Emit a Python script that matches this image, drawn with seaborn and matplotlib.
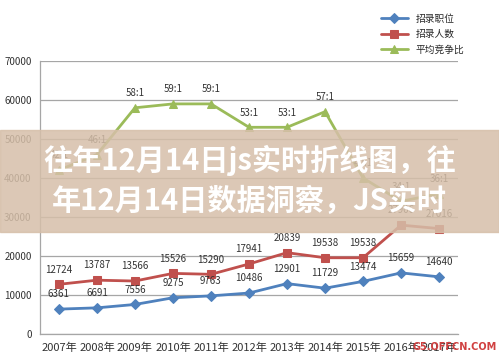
import seaborn as sns
import matplotlib.pyplot as plt
import matplotlib.patches as mpatches
import pandas as pd

years = ["2007年", "2008年", "2009年", "2010年", "2011年", "2012年",
         "2013年", "2014年", "2015年", "2016年", "2017年"]
positions = [6361, 6691, 7556, 9275, 9763, 10486, 12901, 11729, 13474, 15659, 14640]
applicants = [12724, 13787, 13566, 15526, 15290, 17941, 20839, 19538, 19538, 27906, 27016]
ratio = [42, 46, 58, 59, 59, 53, 53, 57, 40, 34, 36]

sns.set_style("white")
plt.rcParams['font.family'] = ['Noto Sans CJK SC', 'DejaVu Sans']

fig = plt.figure(figsize=(4.99, 3.61), dpi=100)
ax = fig.add_axes([0.080, 0.075, 0.838, 0.756])

df = pd.DataFrame({"year": years, "pos": positions, "app": applicants,
                   "ratio": [r * 1000 for r in ratio]})

blue = "#4F81BD"
red = "#C0504D"
green = "#9BBB59"

sns.lineplot(data=df, x="year", y="pos", ax=ax, color=blue, marker="D",
             markersize=5, markeredgecolor=blue, linewidth=2, label="招录职位")
sns.lineplot(data=df, x="year", y="app", ax=ax, color=red, marker="s",
             markersize=6, markeredgecolor=red, linewidth=2, label="招录人数")
sns.lineplot(data=df, x="year", y="ratio", ax=ax, color=green, marker="^",
             markersize=6, markeredgecolor=green, linewidth=2, label="平均竞争比")

for i in range(len(years)):
    ax.annotate(str(positions[i]), (i, positions[i]), xytext=(0, 7),
                textcoords="offset points", ha="center", va="bottom",
                fontsize=7, color="#333333")
    ax.annotate(str(applicants[i]), (i, applicants[i]), xytext=(0, 7),
                textcoords="offset points", ha="center", va="bottom",
                fontsize=7, color="#333333")
    ax.annotate(f"{ratio[i]}:1", (i, ratio[i] * 1000), xytext=(0, 7),
                textcoords="offset points", ha="center", va="bottom",
                fontsize=7, color="#333333")

ax.set_xlim(-0.5, 10.5)
ax.set_ylim(0, 70000)
ax.set_yticks(range(0, 70001, 10000))
ax.yaxis.grid(True, color="#a6a6a6", linewidth=0.9)
ax.set_xlabel("")
ax.set_ylabel("")
ax.tick_params(axis="y", labelsize=7, colors="#333333", length=0, pad=6)
ax.tick_params(axis="x", labelsize=8, colors="#333333", length=0, pad=6)
for s in ["top", "right"]:
    ax.spines[s].set_visible(False)
for s in ["left", "bottom"]:
    ax.spines[s].set_color("#a6a6a6")
    ax.spines[s].set_linewidth(0.9)

ax.legend(loc="upper left", bbox_to_anchor=(372 / 499, 1 - 5 / 361),
          bbox_transform=fig.transFigure, frameon=False,
          fontsize=7, handlelength=2.8, labelspacing=0.55)

# beige overlay banner with title
fig.patches.append(mpatches.Rectangle((0, 1 - 232 / 361), 1, 102 / 361,
                                      transform=fig.transFigure,
                                      color="#d6bfa9", alpha=0.85, zorder=5))
fig.text(0.5, 1 - 160 / 361, "往年12月14日js实时折线图，往", ha="center",
         va="center", fontsize=21, fontweight="bold", color="white", zorder=6)
fig.text(0.5, 1 - 201 / 361, "年12月14日数据洞察，JS实时", ha="center",
         va="center", fontsize=21, fontweight="bold", color="white", zorder=6)
fig.text(0.995, 0.025, "G5.OFFCN.COM", ha="right", va="bottom", fontsize=7,
         fontweight="bold", color="#d04040", family="DejaVu Sans",
         zorder=6)

fig.savefig("out.png", dpi=100)
